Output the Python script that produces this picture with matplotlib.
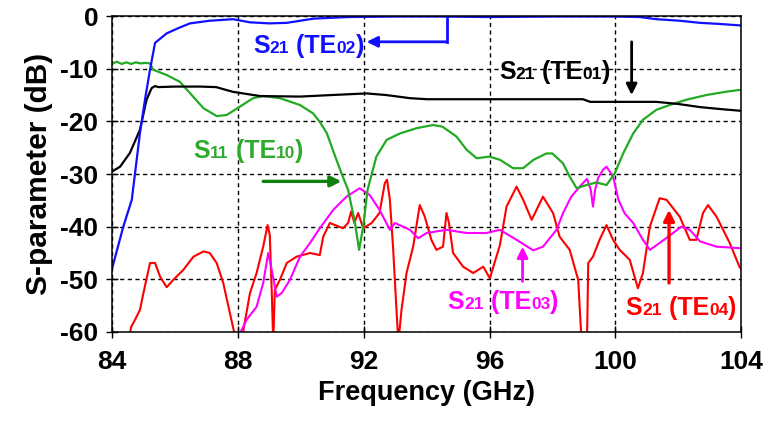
import matplotlib
matplotlib.use("Agg")
import matplotlib.pyplot as plt
from matplotlib.offsetbox import TextArea, HPacker, AnnotationBbox

plt.rcParams.update({
    "font.family": ["Liberation Sans", "DejaVu Sans"],
    "font.weight": "bold",
    "axes.unicode_minus": False,
})

# ── data (GHz, dB) ───────────────────────────────────────────────────────
blue_f = [84.0, 84.35, 84.62, 84.88, 85.05, 85.2, 85.36, 85.73, 86.1, 86.47, 87.1,
          87.84, 88.38, 89.0, 89.55, 90.4, 91.5, 93.0, 94.5, 96.0, 98.0, 100.0,
          100.78, 101.3, 102.05, 102.7, 103.3, 104.0]
blue_db = [-47.8, -40.0, -34.9, -22.2, -15.5, -10.2, -5.1, -3.3, -2.3, -1.4, -0.9,
           -0.6, -1.2, -1.4, -1.3, -0.5, -0.2, -0.1, -0.1, -0.2, -0.1, -0.1,
           -0.2, -0.6, -0.9, -1.3, -1.5, -1.8]

black_f = [84.0, 84.25, 84.56, 84.88, 85.09, 85.25, 85.36, 85.46, 86.0, 86.8, 87.3,
           87.84, 88.7, 89.97, 91.0, 92.09, 92.7, 93.47, 94.0, 97.0, 98.97, 99.2,
           101.3, 102.0, 102.7, 103.4, 104.0]
black_db = [-29.5, -28.6, -26.0, -21.6, -15.9, -13.7, -13.3, -13.5, -13.4, -13.4, -13.5,
            -14.4, -15.2, -15.3, -15.0, -14.7, -15.0, -15.6, -15.8, -15.8, -15.8, -16.3,
            -16.3, -16.7, -17.3, -17.7, -18.0]

green_f = [84.0, 84.15, 84.3, 84.45, 84.6, 84.75, 84.9, 85.05, 85.2, 85.3, 85.73,
           86.15, 86.57, 86.9, 87.32, 87.64, 88.06, 88.48, 88.8, 89.33, 89.97, 90.39,
           90.6, 90.82, 91.13, 91.3, 91.5, 91.72, 91.85, 91.98, 92.12, 92.4, 92.73,
           93.15, 93.68, 94.2, 94.5, 94.95, 95.27, 95.59, 96.0, 96.33, 96.75, 97.07,
           97.4, 97.81, 98.0, 98.34, 98.55, 98.77, 99.08, 99.4, 99.72, 99.98, 100.25,
           100.57, 100.88, 101.31, 101.73, 102.26, 102.9, 103.5, 104.0]
green_db = [-9.0, -8.7, -9.1, -8.8, -9.1, -8.8, -9.0, -8.9, -9.0, -10.2, -11.2,
            -12.5, -15.3, -17.5, -19.0, -18.8, -17.2, -15.6, -15.2, -15.6, -16.9, -18.5,
            -20.1, -22.2, -27.3, -30.0, -33.0, -39.3, -44.4, -40.0, -33.0, -26.7, -23.5,
            -22.3, -21.3, -20.7, -21.0, -22.9, -25.4, -27.0, -26.7, -27.3, -28.9, -28.9,
            -27.3, -26.1, -26.1, -28.0, -30.5, -32.7, -32.1, -31.6, -32.1, -29.9, -26.1,
            -22.3, -19.7, -17.8, -16.9, -15.9, -15.0, -14.4, -14.0]

red_f = [84.51, 84.6, 84.67, 84.88, 84.99, 85.2, 85.36, 85.52, 85.73, 85.94, 86.26,
         86.58, 86.9, 87.1, 87.32, 87.53, 87.74, 87.95, 88.1, 88.38, 88.59, 88.8,
         88.94, 89.01, 89.07, 89.12, 89.17, 89.33, 89.55, 89.86, 90.29, 90.6, 90.71,
         90.92, 91.34, 91.5, 91.6, 91.7, 91.82, 91.98, 92.25, 92.5, 92.67, 92.74,
         92.83, 92.93, 93.04, 93.1, 93.2, 93.36, 93.57, 93.78, 93.94, 94.15, 94.31,
         94.52, 94.63, 94.71, 94.84, 95.16, 95.48, 95.8, 96.01, 96.33, 96.54, 96.86,
         97.07, 97.34, 97.7, 98.02, 98.23, 98.55, 98.82, 98.93, 99.1, 99.14, 99.29,
         99.5, 99.72, 99.93, 100.14, 100.46, 100.72, 100.88, 101.1, 101.41, 101.63,
         102.05, 102.37, 102.58, 102.79, 102.95, 103.22, 103.64, 103.95, 104.0]
red_db = [-62.0, -59.0, -58.3, -55.8, -52.6, -46.9, -46.9, -49.5, -51.5, -50.1, -48.2,
          -45.7, -44.7, -45.0, -46.9, -50.7, -56.4, -62.0, -62.0, -52.6, -48.8, -43.8,
          -39.7, -41.6, -52.0, -62.0, -52.0, -50.1, -46.9, -45.7, -45.0, -45.4, -41.9,
          -39.3, -40.3, -39.3, -37.1, -39.3, -37.4, -40.3, -39.3, -37.4, -31.7, -31.1,
          -34.9, -43.8, -55.8, -62.0, -55.8, -48.8, -43.8, -35.9, -38.1, -42.5, -44.4,
          -43.8, -37.4, -39.3, -45.0, -47.6, -48.8, -47.6, -49.8, -43.5, -36.2, -32.4,
          -34.9, -38.7, -34.3, -37.4, -41.9, -44.4, -50.1, -62.0, -62.0, -46.9, -45.7,
          -42.5, -39.7, -42.5, -44.4, -46.3, -51.7, -48.8, -40.0, -34.6, -34.9,
          -38.1, -42.5, -42.5, -37.4, -35.9, -38.1, -43.1, -47.6, -48.0]

mag_f = [88.0, 88.27, 88.59, 88.8, 88.96, 89.07, 89.23, 89.39, 89.65, 89.97, 90.29,
         90.6, 91.03, 91.45, 91.87, 92.19, 92.5, 92.83, 92.99, 93.47, 93.73, 94.0,
         94.63, 95.27, 95.9, 96.33, 96.86, 97.39, 97.7, 98.13, 98.34, 98.6, 98.87,
         99.1, 99.22, 99.29, 99.36, 99.45, 99.61, 99.72, 99.93, 100.1, 100.3, 100.57,
         100.88, 101.1, 101.41, 101.84, 102.1, 102.37, 102.7, 103.22, 104.0]
mag_db = [-61.0, -57.7, -55.2, -50.7, -45.0, -48.2, -53.3, -52.6, -50.1, -45.7, -43.1,
          -40.3, -36.8, -34.3, -32.7, -34.0, -36.8, -40.6, -39.3, -40.6, -42.2, -41.2,
          -40.6, -41.2, -41.2, -40.6, -42.5, -44.5, -43.8, -40.6, -37.4, -34.3, -32.4,
          -30.9, -33.0, -36.2, -33.0, -30.8, -29.2, -28.6, -30.5, -34.9, -37.5, -39.3,
          -42.5, -44.4, -43.1, -41.2, -40.0, -40.6, -42.8, -43.8, -44.1]

x_ticks = [84, 88, 92, 96, 100, 104]
y_ticks = [0, -10, -20, -30, -40, -50, -60]

BLUE, GREEN, DGREEN, MAG, RED = "#1010ff", "#22aa22", "#10800f", "#ff00ff", "#ff0000"


def mode_label(ax, x, y, main, sub1, mid, sub2, color):
    # S_ij (TE_mn) with small, baseline-aligned subscripts
    parts = [(main, 18), (sub1, 12.5), (" (" + mid, 18), (sub2, 12.5), (")", 18)]
    areas = [TextArea(t, textprops=dict(color=color, fontsize=s, fontweight="bold"))
             for t, s in parts]
    box = HPacker(children=areas, align="baseline", pad=0, sep=0)
    ab = AnnotationBbox(box, (x, y), xycoords="data", box_alignment=(0, 0.5),
                        frameon=False, pad=0)
    ax.add_artist(ab)


def arrow(ax, x0, y0, x1, y1, color, lw=2.0):
    ax.annotate("", xy=(x1, y1), xytext=(x0, y0),
                arrowprops=dict(arrowstyle="-|>", color=color, lw=lw,
                                mutation_scale=16, shrinkA=0, shrinkB=0))


fig = plt.figure(figsize=(7.66, 4.28), dpi=100)
ax = fig.add_axes([0.1466, 0.2243, 0.8208, 0.7383])

ax.plot(red_f, red_db, color=RED, lw=1.5)
ax.plot(mag_f, mag_db, color=MAG, lw=1.5)
ax.plot(green_f, green_db, color=GREEN, lw=1.6)
ax.plot(black_f, black_db, color="black", lw=1.6)
ax.plot(blue_f, blue_db, color=BLUE, lw=1.6)

ax.set_xlim(84, 104)
ax.set_ylim(-60, 0)
ax.set_xticks(x_ticks)
ax.set_yticks(y_ticks)
ax.grid(True, color="black", lw=1.0, ls=(0, (3, 2.5)))
ax.set_axisbelow(True)
ax.tick_params(direction="inout", length=8, width=1.0, labelsize=19, pad=6)
ax.tick_params(axis="x", pad=9)
for s in ax.spines.values():
    s.set_linewidth(1.1)

ax.set_xlabel("Frequency (GHz)", fontsize=19.5, fontweight="bold", labelpad=4)
ax.set_ylabel("S-parameter (dB)", fontsize=21.5, fontweight="bold", labelpad=5)

# annotations
mode_label(ax, 88.47, -5.7, "S", "21", "TE", "02", BLUE)
ax.plot([94.64, 94.64], [-0.2, -4.9], color=BLUE, lw=2.0)
arrow(ax, 94.64, -4.9, 92.09, -4.9, BLUE)

mode_label(ax, 96.3, -10.6, "S", "21", "TE", "01", "black")
arrow(ax, 100.52, -4.9, 100.52, -15.0, "black")

mode_label(ax, 86.58, -25.7, "S", "11", "TE", "10", "#2eaa2e")
arrow(ax, 88.8, -31.4, 91.29, -31.4, DGREEN, lw=2.4)

mode_label(ax, 94.67, -54.3, "S", "21", "TE", "03", MAG)
arrow(ax, 97.05, -50.4, 97.05, -43.8, MAG)

mode_label(ax, 100.33, -55.4, "S", "21", "TE", "04", RED)
arrow(ax, 101.71, -50.7, 101.71, -36.8, RED, lw=2.4)

fig.savefig("out.png", dpi=100)
